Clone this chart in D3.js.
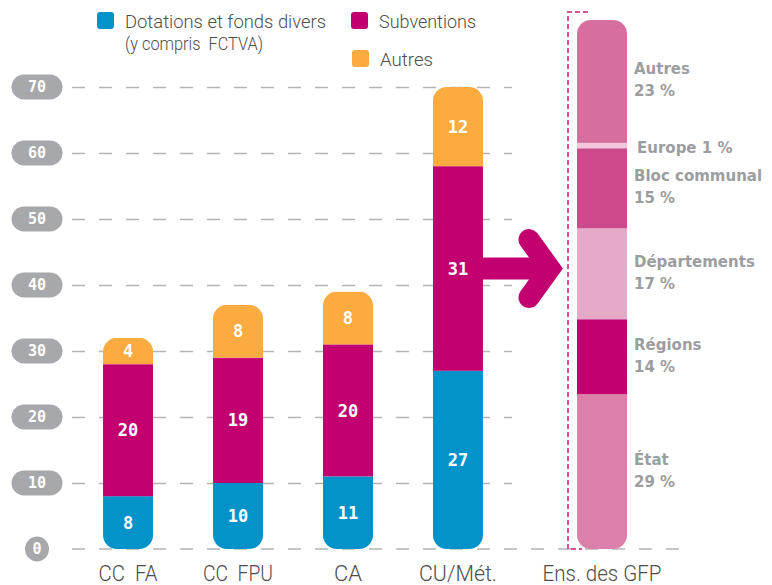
<!DOCTYPE html>
<html lang="fr">
<head>
<meta charset="utf-8">
<script src="https://cdn.jsdelivr.net/npm/d3@7/dist/d3.min.js"></script>
<style>
  html, body { margin: 0; padding: 0; background: #ffffff; }
  svg { display: block; }
  .thin { font-family: Roboto, "Open Sans", sans-serif; font-weight: 300; fill: #4d4d4d; }
  .num { font-family: "DejaVu Sans Mono", monospace; font-weight: bold; fill: #ffffff; }
  .side { font-family: "DejaVu Sans", sans-serif; font-weight: bold; fill: #9c9da0; }
</style>
</head>
<body>
<svg id="chart" width="772" height="585"></svg>
<script>
// Recettes d'investissement par type de groupement (en %)
const categories = ["CC  FA", "CC  FPU", "CA", "CU/Mét."];
const dotations  = [8, 10, 11, 27];
const subventions = [20, 19, 20, 31];
const autres     = [4, 8, 8, 12];
const yTicks = [0, 10, 20, 30, 40, 50, 60, 70];

// Origine des subventions, ensemble des GFP (en %), du bas vers le haut
const gfpNames  = ["État", "Régions", "Départements", "Bloc communal", "Europe", "Autres"];
const gfpShares = [29, 14, 17, 15, 1, 23];
const gfpLabel  = "Ens. des GFP";

const seriesNames = ["Dotations et fonds divers", "Subventions", "Autres"];
const seriesColors = ["#0393c9", "#c3006f", "#fbab3f"];
const gfpColors = ["#da80aa", "#c3006f", "#e6aac9", "#cc4a8b", "#f3c8dc", "#d76ea0"];

// Largeurs visées pour les textes en police étroite
const fitWidths = {
  "CC  FA": 59, "CC  FPU": 70, "CA": 28, "CU/Mét.": 78, "Ens. des GFP": 119,
  "Dotations et fonds divers": 201, "(y compris  FCTVA)": 138, "Subventions": 97, "Autres": 53
};
function fit(sel) {
  sel.each(function () {
    const w = fitWidths[this.textContent];
    if (w && this.getComputedTextLength() > w) {
      d3.select(this).attr("textLength", w).attr("lengthAdjust", "spacingAndGlyphs");
    }
  });
}

const svg = d3.select("#chart");

const y = d3.scaleLinear().domain([0, 70]).range([549, 87]);
const x = d3.scaleBand().domain(categories).range([73, 513])
  .paddingInner(0.545).paddingOuter(0.273);

// Grille en tirets
const grid = svg.append("g").attr("transform", "translate(72,0)")
  .call(d3.axisRight(y).tickValues(yTicks.filter(t => t > 0)).tickSize(440).tickFormat(""));
grid.select(".domain").remove();
grid.selectAll("line").attr("stroke", "#b4b4b4").attr("stroke-width", 1.5)
  .attr("stroke-dasharray", "13,14");
svg.append("line").attr("x1", 72).attr("x2", 690).attr("y1", y(0)).attr("y2", y(0))
  .attr("stroke", "#b4b4b4").attr("stroke-width", 1.5).attr("stroke-dasharray", "13,14");

// Étiquettes de l'axe en pastilles
const pills = svg.append("g").selectAll("g").data(yTicks).join("g")
  .attr("transform", d => `translate(37,${y(d)})`);
pills.append("rect")
  .attr("x", d => d === 0 ? -12 : -25.5).attr("width", d => d === 0 ? 24 : 51)
  .attr("y", -12.5).attr("height", 25).attr("rx", 12.5)
  .attr("fill", "#a7a8ab");
pills.append("text").attr("class", "num").attr("text-anchor", "middle")
  .attr("dy", "0.36em").attr("font-size", 15).text(d => d);

// Barres empilées
const stacked = categories.map((c, i) => {
  const vals = [dotations[i], subventions[i], autres[i]];
  let acc = 0;
  return { cat: c, segs: vals.map((v, k) => { const s = { k, v, y0: acc, y1: acc + v }; acc += v; return s; }), total: acc };
});

const defs = svg.append("defs");
stacked.forEach((b, i) => {
  defs.append("clipPath").attr("id", "clip" + i).append("rect")
    .attr("x", x(b.cat)).attr("width", x.bandwidth())
    .attr("y", y(b.total)).attr("height", y(0) - y(b.total)).attr("rx", 14);
});

const bars = svg.append("g").selectAll("g").data(stacked).join("g")
  .attr("clip-path", (d, i) => `url(#clip${i})`);
bars.selectAll("rect").data(d => d.segs.map(s => ({ ...s, cat: d.cat }))).join("rect")
  .attr("x", d => x(d.cat)).attr("width", x.bandwidth())
  .attr("y", d => y(d.y1)).attr("height", d => y(d.y0) - y(d.y1))
  .attr("fill", d => seriesColors[d.k]);

svg.append("g").selectAll("text")
  .data(stacked.flatMap(b => b.segs.map(s => ({ ...s, cat: b.cat }))))
  .join("text").attr("class", "num").attr("text-anchor", "middle")
  .attr("font-size", 17)
  .attr("x", d => x(d.cat) + x.bandwidth() / 2)
  .attr("y", d => y((d.y0 + d.y1) / 2)).attr("dy", "0.36em")
  .text(d => d.v);

// Flèche vers la décomposition des subventions
const cu = stacked[3];
const ay = y((cu.segs[1].y0 + cu.segs[1].y1) / 2);
const ax0 = x(cu.cat) + x.bandwidth();
svg.append("rect").attr("x", ax0 - 1).attr("y", ay - 11).attr("width", 68).attr("height", 22)
  .attr("fill", "#c3006f");
svg.append("path")
  .attr("d", `M${ax0 + 46},${ay - 29} L${ax0 + 67},${ay} L${ax0 + 46},${ay + 29}`)
  .attr("fill", "none").attr("stroke", "#c3006f").attr("stroke-width", 21)
  .attr("stroke-linecap", "round").attr("stroke-linejoin", "miter").attr("stroke-miterlimit", 4);

// Décomposition des subventions de l'ensemble des GFP
const gfpTotal = d3.sum(gfpShares);
const yg = d3.scaleLinear().domain([0, gfpTotal]).range([549, 20]);
const gx = 577, gw = 50;
let accG = 0;
const gfpSegs = gfpNames.map((n, i) => { const s = { n, v: gfpShares[i], y0: accG, y1: accG + gfpShares[i], i }; accG += gfpShares[i]; return s; });

defs.append("clipPath").attr("id", "clipG").append("rect")
  .attr("x", gx).attr("width", gw).attr("y", yg(gfpTotal)).attr("height", yg(0) - yg(gfpTotal)).attr("rx", 14);
svg.append("g").attr("clip-path", "url(#clipG)").selectAll("rect").data(gfpSegs).join("rect")
  .attr("x", gx).attr("width", gw)
  .attr("y", d => yg(d.y1)).attr("height", d => yg(d.y0) - yg(d.y1))
  .attr("fill", d => gfpColors[d.i]);

// Crochet en pointillés
svg.append("path")
  .attr("d", `M588,12 H568 V549 H582`)
  .attr("fill", "none").attr("stroke", "#d9519a").attr("stroke-width", 2)
  .attr("stroke-dasharray", "5,3");

const sideLabels = svg.append("g");
gfpSegs.forEach(s => {
  const c = yg((s.y0 + s.y1) / 2);
  if (s.v < 5) {
    sideLabels.append("text").attr("class", "side").attr("font-size", 15)
      .attr("x", 637).attr("y", c + 7).text(`${s.n} ${s.v} %`);
  } else {
    const t = sideLabels.append("text").attr("class", "side").attr("font-size", 15);
    t.append("tspan").attr("x", 634).attr("y", c - 7).text(s.n);
    t.append("tspan").attr("x", 634).attr("y", c + 15).text(`${s.v} %`);
  }
});

// Libellés des catégories
svg.append("g").selectAll("text").data(categories).join("text").attr("class", "thin")
  .attr("text-anchor", "middle").attr("font-size", 22)
  .attr("x", d => x(d) + x.bandwidth() / 2).attr("y", 581)
  .style("white-space", "pre").text(d => d).call(fit);
svg.append("text").attr("class", "thin").attr("text-anchor", "middle").attr("font-size", 22)
  .attr("x", gx + gw / 2).attr("y", 581).text(gfpLabel).call(fit);

// Légende
const legend = [
  { i: 0, x: 97, y: 12, lines: [seriesNames[0], "(y compris  FCTVA)"] },
  { i: 1, x: 351, y: 12, lines: [seriesNames[1]] },
  { i: 2, x: 352, y: 50, lines: [seriesNames[2]] }
];
const lg = svg.append("g").selectAll("g").data(legend).join("g");
lg.append("rect").attr("x", d => d.x).attr("y", d => d.y).attr("width", 17).attr("height", 17)
  .attr("rx", 3).attr("fill", d => seriesColors[d.i]);
lg.each(function (d) {
  const t = d3.select(this);
  d.lines.forEach((l, k) => t.append("text").attr("class", "thin").attr("font-size", 19)
    .style("white-space", "pre")
    .attr("x", d.x + 28).attr("y", d.y + 16 + k * 22).text(l).call(fit));
});
</script>
</body>
</html>
